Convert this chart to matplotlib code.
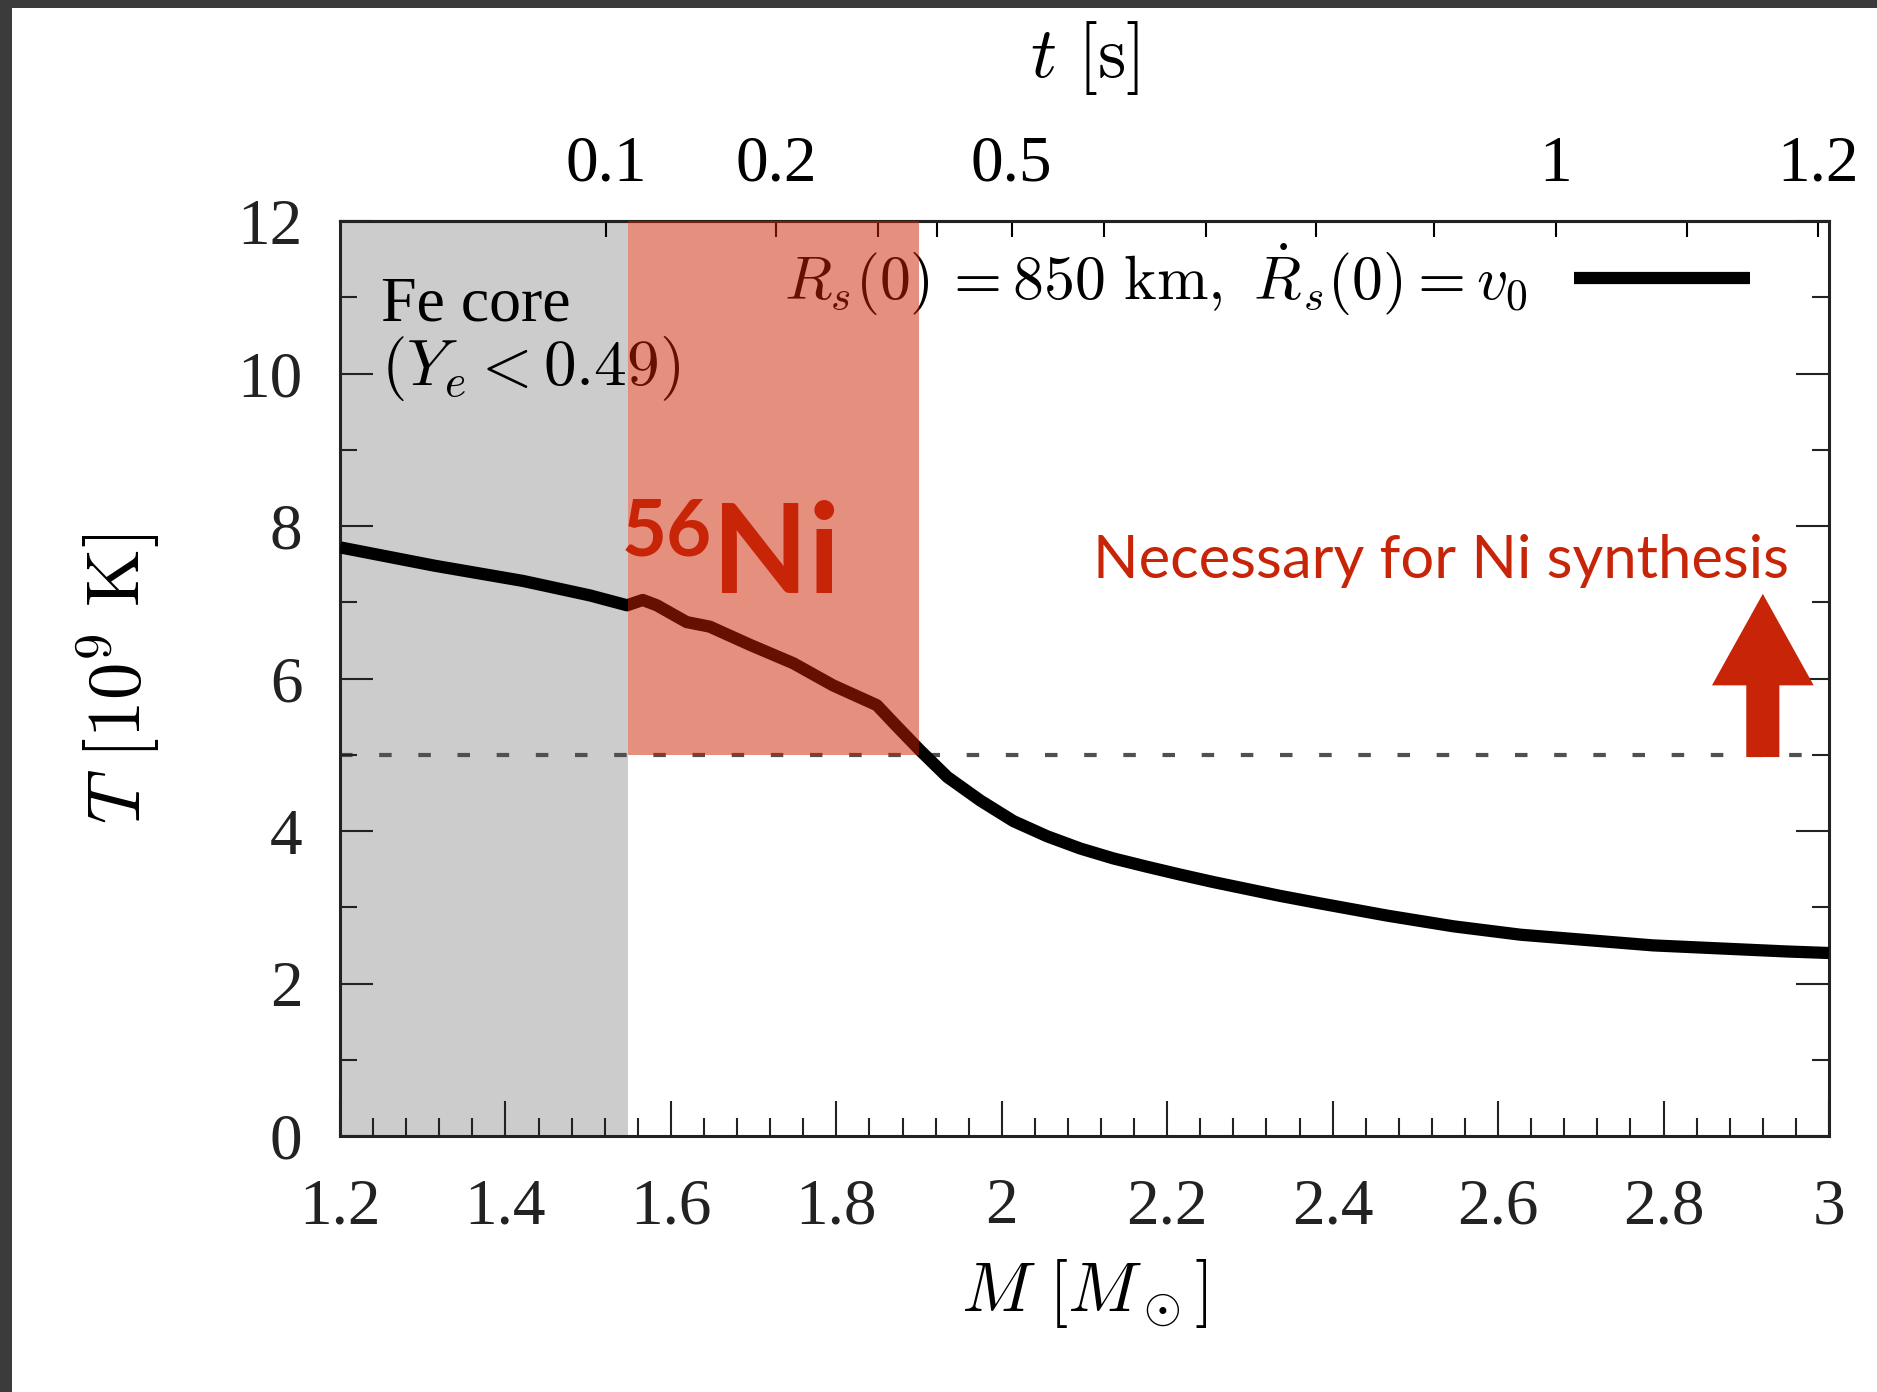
import matplotlib
matplotlib.use("Agg")
import matplotlib.pyplot as plt
from matplotlib.patches import Rectangle, FancyArrow
from matplotlib.ticker import MultipleLocator, FuncFormatter

# Temperaturverlauf T(M)
mass = [1.2, 1.314, 1.421, 1.502, 1.547, 1.566, 1.583, 1.619, 1.647, 1.696,
        1.748, 1.796, 1.849, 1.869, 1.901, 1.934, 1.974, 2.014, 2.055, 2.095,
        2.135, 2.176, 2.215, 2.256, 2.296, 2.336, 2.385, 2.466, 2.546, 2.627,
        2.707, 2.787, 2.868, 2.949, 3.0]
temp = [7.72, 7.48, 7.28, 7.09, 6.96, 7.03, 6.96, 6.74, 6.68, 6.44,
        6.20, 5.91, 5.65, 5.42, 5.06, 4.71, 4.40, 4.13, 3.93, 3.77,
        3.64, 3.53, 3.43, 3.33, 3.24, 3.15, 3.05, 2.89, 2.75, 2.64,
        2.57, 2.50, 2.46, 2.42, 2.40]

# obere Achse: Zeit t [s] an Massenpositionen
t_ticks = [0.1, 0.2, 0.3, 0.4, 0.5, 0.6, 0.7, 0.8, 0.9, 1.0, 1.1, 1.2]
t_tick_mass = [1.522, 1.727, 1.850, 1.922, 2.012, 2.124, 2.247, 2.380,
               2.523, 2.670, 2.828, 2.987]
t_labeled = [0.1, 0.2, 0.5, 1.0, 1.2]

fe_core_edge = 1.548
ni_edge = 1.90
t_ni_min = 5.0

red = "#c82408"

plt.rcParams["font.family"] = "serif"
plt.rcParams["font.serif"] = ["Liberation Serif"]
plt.rcParams["mathtext.fontset"] = "cm"

fig = plt.figure(figsize=(18.77, 13.92), dpi=100)
ax = fig.add_axes([340 / 1877, 1 - 1136 / 1392, 1489 / 1877, 915 / 1392])

# Bereiche
ax.axvspan(1.2, fe_core_edge, color="#cccccc", lw=0, zorder=0)
ax.add_patch(Rectangle((fe_core_edge, t_ni_min), ni_edge - fe_core_edge, 12 - t_ni_min,
                       facecolor="#cc2000", alpha=0.5, lw=0, zorder=10))
ax.axhline(t_ni_min, color="#505050", lw=3.0, dashes=(3.0, 6.4), zorder=1)

ax.plot(mass, temp, color="black", lw=8.8, solid_joinstyle="round",
        solid_capstyle="butt",
        label=r"$R_s(0)\,{=}850\ \mathrm{km},\ \dot{R}_s(0) = v_0$", zorder=3)

ax.legend(loc="upper right", bbox_to_anchor=(0.947, 0.978), frameon=False,
          markerfirst=False, handlelength=2.85, handletextpad=0.75,
          borderpad=0, borderaxespad=0, fontsize=44.5)

# Beschriftungen
ax.text(1.2496, 10.69, "Fe core", fontsize=46, va="baseline", ha="left", zorder=4)
ax.text(1.2496, 9.85, r"$(Y_e < 0.49)$", fontsize=47, va="baseline", ha="left", zorder=4)

ax.text(1.541, 8.37, "56", fontsize=56, family="Lato", weight="bold", color=red,
        va="top", ha="left", zorder=12)
ax.text(1.650, 7.12, "Ni", fontsize=90, family="Lato", weight="bold", color=red,
        va="baseline", ha="left", zorder=12)

ax.text(2.952, 7.32, "Necessary for Ni synthesis", fontsize=43, family="Lato",
        color=red, va="baseline", ha="right", zorder=12)
ax.add_patch(FancyArrow(2.92, 4.97, 0, 2.14, width=0.040, head_width=0.123,
                        head_length=1.20, length_includes_head=True,
                        color=red, lw=0, zorder=11))

# Achsen
ax.set_xlim(1.2, 3.0)
ax.set_ylim(0, 12)
ax.xaxis.set_major_locator(MultipleLocator(0.2))
ax.xaxis.set_minor_locator(MultipleLocator(0.04))
ax.yaxis.set_major_locator(MultipleLocator(2))
ax.yaxis.set_minor_locator(MultipleLocator(1))
ax.xaxis.set_major_formatter(FuncFormatter(lambda v, p: "%g" % round(v, 2)))

ax.tick_params(which="both", direction="in", top=False, right=True, width=1.5,
               labelsize=47, colors="#222222")
ax.tick_params(axis="x", which="major", length=25, pad=30)
ax.tick_params(axis="x", which="minor", length=13)
ax.tick_params(axis="y", which="major", length=24, pad=27)
ax.tick_params(axis="y", which="minor", length=12)
for s in ax.spines.values():
    s.set_linewidth(2.2)
    s.set_color("#222222")

ax.set_xlabel(r"$M\ [M_\odot]$", fontsize=50, labelpad=14)
ax.set_ylabel(r"$T\ [10^9\ \mathrm{K}]$", fontsize=54, labelpad=54)

sec = ax.secondary_xaxis("top")
sec.set_xticks(t_tick_mass, ["%g" % t if t in t_labeled else "" for t in t_ticks])
sec.tick_params(direction="in", length=11.5, width=1.5, labelsize=47, pad=19)
sec.spines["top"].set_linewidth(2.2)
sec.set_xlabel(r"$t\ [\mathrm{s}]$", fontsize=52, labelpad=42)

# dunkler Rahmen (Screenshot)
fig.add_artist(Rectangle((0, 0), 12 / 1877, 1, transform=fig.transFigure,
                         color="#3b3b3b", lw=0))
fig.add_artist(Rectangle((0, 1 - 8 / 1392), 1, 8 / 1392, transform=fig.transFigure,
                         color="#3b3b3b", lw=0))

fig.savefig("out.png", dpi=100)
